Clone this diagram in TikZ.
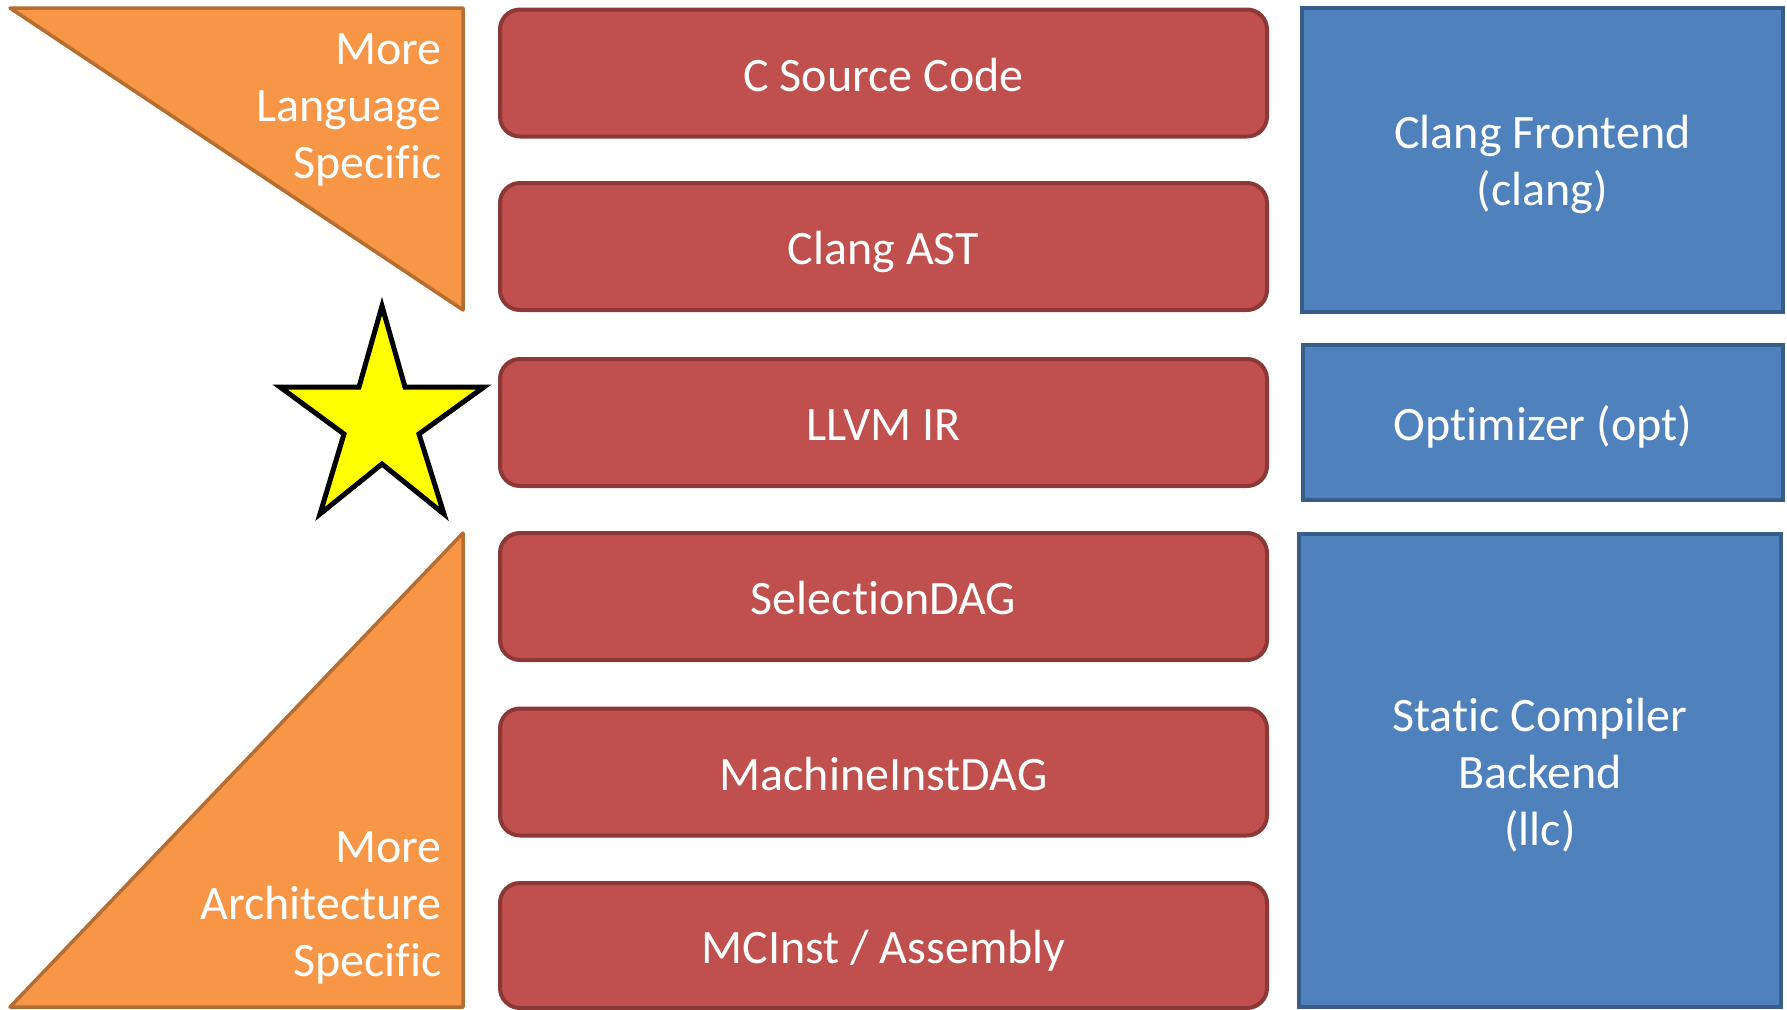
\documentclass[tikz,border=0pt]{standalone}
\usepackage{fontspec}
\setmainfont{Carlito}[Ligatures=NoCommon]
\definecolor{redfill}{HTML}{C0504D}
\definecolor{redline}{HTML}{8C3836}
\definecolor{bluefill}{HTML}{4F81BD}
\definecolor{blueline}{HTML}{385D8A}
\definecolor{orangefill}{HTML}{F79646}
\definecolor{orangeline}{HTML}{B66D31}
\definecolor{staryellow}{HTML}{FFFF00}
\begin{document}
\begin{tikzpicture}[x=1pt,y=-1pt,
  every node/.style={font=\fontsize{48}{57}\selectfont, text=white, inner sep=0pt},
  oneline/.style={text height=43pt, text depth=7pt},
  redbox/.style={oneline, draw=redline, fill=redfill, line width=4pt, rounded corners=20pt,
    minimum width=767pt, minimum height=127pt},
  bluebox/.style={draw=blueline, fill=bluefill, line width=4pt, align=center},
  bluelabel/.style={align=center, font=\fontsize{48}{57}\selectfont, text=white},
  orangetri/.style={draw=orangeline, fill=orangefill, line width=3.5pt, line join=round},
  sidelabel/.style={align=right, anchor=east}]
\useasboundingbox (0,0) rectangle (1787,1009);
% orange triangles
\draw[orangetri] (10,8) -- (463,8) -- (463,310) -- cycle;
\draw[orangetri] (463,533) -- (463,1007) -- (10,1007) -- cycle;
\node[sidelabel] (langspec) at (442,109.5) {More\\Language\\Specific};
\node[sidelabel] (archspec) at (442,908) {More\\Architecture\\Specific};
% star
\draw[fill=staryellow, draw=black, line width=5pt, line join=miter]
  (382,306) -- (405,387) -- (484,387) -- (419,434) -- (444,514) -- (382,464)
  -- (320,514) -- (344,434) -- (280,387) -- (359,387) -- cycle;
% red boxes
\node[redbox] (src) at (883.5,73) {C Source Code};
\node[redbox] (ast) at (883.5,246.5) {Clang AST};
\node[redbox] (ir) at (883.5,422.5) {LLVM IR};
\node[redbox] (sdag) at (883.5,596.5) {SelectionDAG};
\node[redbox] (midag) at (883.5,772) {MachineInstDAG};
\node[redbox, minimum height=125pt] (mcinst) at (883.5,945.5) {MCInst / Assembly};
% blue boxes
\node[bluebox, minimum width=481pt, minimum height=304pt,
  label={[bluelabel, yshift=-4pt]center:{Clang Frontend\\(clang)}}] (clang) at (1542.5,160) {};
\node[bluebox, oneline, minimum width=480pt, minimum height=155pt] (opt) at (1543,422.5) {Optimizer (opt)};
\node[bluebox, minimum width=482pt, minimum height=473pt,
  label={[bluelabel, yshift=-5.5pt]center:{Static Compiler\\Backend\\(llc)}}] (llc) at (1540,770) {};
\end{tikzpicture}
\end{document}
